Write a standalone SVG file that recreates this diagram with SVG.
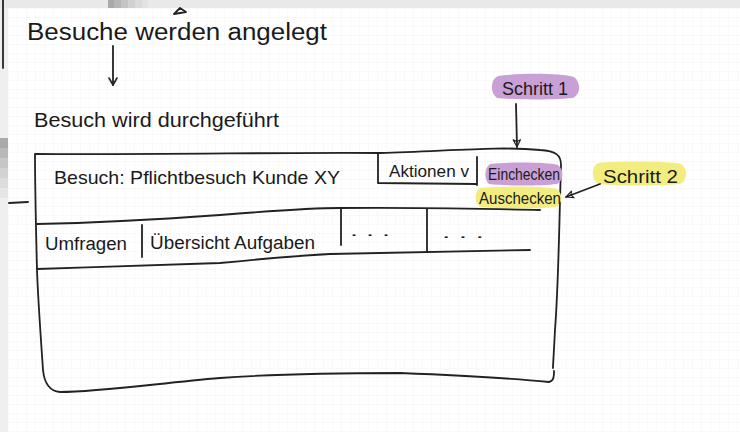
<svg xmlns="http://www.w3.org/2000/svg" width="740" height="432" viewBox="0 0 740 432">
  <defs>
    <pattern id="grid" width="9" height="9" patternUnits="userSpaceOnUse">
      <path d="M9 0V9H0" fill="none" stroke="#f3f3f3" stroke-width="1"/>
    </pattern>
    <marker id="vhead" viewBox="0 0 10 10" refX="9" refY="5" markerWidth="10" markerHeight="10" orient="auto" markerUnits="userSpaceOnUse">
      <path d="M2 1 L9 5 L2 9" fill="none" stroke="#222" stroke-width="1.6" stroke-linecap="round" stroke-linejoin="round"/>
    </marker>
    <marker id="tri" viewBox="0 0 10 10" refX="9" refY="5" markerWidth="9" markerHeight="9" orient="auto" markerUnits="userSpaceOnUse">
      <path d="M1 1 L9 5 L1 9 L3 5 Z" fill="none" stroke="#222" stroke-width="1.3" stroke-linejoin="round"/>
    </marker>
    <style>
      .ink { fill: none; stroke: #222; stroke-width: 1.8; stroke-linecap: round; stroke-linejoin: round; }
      .hand { font-family: "Liberation Sans", "DejaVu Sans", sans-serif; fill: #1a1a1a; }
      .purple { fill: #c9a0d6; }
      .yellow { fill: #f3ed80; }
    </style>
  </defs>

  <!-- page background with faint grid -->
  <rect width="740" height="432" fill="#ffffff"/>
  <rect width="740" height="432" fill="url(#grid)"/>

  <!-- window chrome along top and left -->
  <rect x="0" y="0" width="740" height="8" fill="#e9e9e9"/>
  <rect x="108" y="0" width="6" height="8" fill="#a8a8a8"/>
  <rect x="114" y="0" width="7" height="8" fill="#b6b6b6"/>
  <rect x="121" y="0" width="7" height="8" fill="#c4c4c4"/>
  <rect x="128" y="0" width="7" height="8" fill="#d1d1d1"/>
  <rect x="135" y="0" width="7" height="8" fill="#dbdbdb"/>
  <rect x="142" y="0" width="6" height="8" fill="#e2e2e2"/>
  <rect x="0" y="8" width="8" height="424" fill="#efefef"/>
  <rect x="0" y="138" width="8" height="10" fill="#a9a9a9"/>
  <rect x="0" y="148" width="8" height="10" fill="#b8b8b8"/>
  <rect x="0" y="158" width="8" height="10" fill="#c6c6c6"/>
  <rect x="0" y="168" width="8" height="10" fill="#d2d2d2"/>
  <rect x="0" y="178" width="8" height="10" fill="#dcdcdc"/>
  <rect x="0" y="188" width="8" height="10" fill="#e5e5e5"/>
  <path class="ink" d="M3 0 L3 68"/>
  <path class="ink" d="M174 14 L180 8 L186 12 Z" stroke-width="1.4"/>
  <path class="ink" d="M9 203 L28 202"/>

  <!-- step 1: visits are created -->
  <g id="besuche-angelegt">
    <text class="hand" x="27" y="40" font-size="23" textLength="300" lengthAdjust="spacingAndGlyphs">Besuche werden angelegt</text>
  </g>

  <!-- step 2: visit is carried out -->
  <g id="besuch-durchgefuehrt">
    <text class="hand" x="34" y="127" font-size="20" textLength="245" lengthAdjust="spacingAndGlyphs">Besuch wird durchgeführt</text>
  </g>

  <!-- visit screen -->
  <g id="besuch-ansicht">
    <path class="ink" d="M35 154 C150 155 300 152 380 153 C450 151 500 146 540 150 C556 151 561 155 561 165 L560 200 C559 240 558 290 555 330 C554 350 553 365 553 368 M554 371 C554 376 554 381 549 382 C500 377 450 375 400 373 C330 373 260 375 220 378 C160 383 100 392 60 392 C48 391 44 380 43 370 C41 340 38 300 37 270 C36 230 35 190 35 154"/>
  </g>

  <g id="kopfzeile">
    <text class="hand" x="54" y="184" font-size="19" textLength="286" lengthAdjust="spacingAndGlyphs">Besuch: Pflichtbesuch Kunde XY</text>
  </g>

  <g id="aktionen">
    <path class="ink" d="M378 153 L378 183 L477 184 M477 157 L477 185"/>
    <text class="hand" x="389" y="177" font-size="17" textLength="80" lengthAdjust="spacingAndGlyphs">Aktionen v</text>
  </g>

  <g id="einchecken">
    <path class="purple" d="M490 164 C510 162 545 162 558 165 C564 170 564 180 557 184 C540 186 505 186 489 184 C484 180 484 168 490 164 Z"/>
    <text class="hand" x="488" y="180" font-size="17" textLength="72" lengthAdjust="spacingAndGlyphs">Einchecken</text>
  </g>

  <g id="auschecken">
    <path class="yellow" d="M480 188 C500 186 540 186 557 189 C563 194 563 203 556 207 C535 209 500 209 480 207 C474 203 474 192 480 188 Z"/>
    <text class="hand" x="479" y="204" font-size="17" textLength="82" lengthAdjust="spacingAndGlyphs">Auschecken</text>
  </g>

  <g id="reiter">
    <path class="ink" d="M37 224 C90 223 150 220 220 215 C270 211 310 208 340 208 C420 207 480 209 540 210"/>
    <path class="ink" d="M37 269 C100 267 170 265 220 263 C260 259 290 256 330 254 C400 252 470 251 530 250"/>
    <path class="ink" d="M142 225 L142 257"/>
    <path class="ink" d="M341 208 L341 245"/>
    <path class="ink" d="M427 209 L427 252"/>
    <text class="hand" x="45" y="250" font-size="18" textLength="82" lengthAdjust="spacingAndGlyphs">Umfragen</text>
    <text class="hand" x="150" y="249" font-size="18" textLength="165" lengthAdjust="spacingAndGlyphs">Übersicht Aufgaben</text>
    <text class="hand" x="350" y="236" font-size="15" textLength="40" lengthAdjust="spacingAndGlyphs">. . .</text>
    <text class="hand" x="442" y="238" font-size="15" textLength="42" lengthAdjust="spacingAndGlyphs">. . .</text>
  </g>

  <g id="schritt-1">
    <path class="purple" d="M498 76 C520 73 560 73 574 77 C581 83 581 94 573 98 C550 100 515 100 497 98 C490 93 490 80 498 76 Z"/>
    <text class="hand" x="502" y="95" font-size="18" textLength="66" lengthAdjust="spacingAndGlyphs">Schritt 1</text>
  </g>

  <g id="schritt-2">
    <path class="yellow" d="M598 163 C620 161 665 161 681 164 C688 169 688 180 680 184 C655 186 620 186 598 184 C591 179 591 167 598 163 Z"/>
    <text class="hand" x="603" y="183" font-size="19" textLength="75" lengthAdjust="spacingAndGlyphs">Schritt 2</text>
  </g>

  <!-- connectors -->
  <g id="verbindungen">
    <path class="ink" d="M113 46 L113 85" marker-end="url(#vhead)"/>
    <path class="ink" d="M516 104 L517 147" marker-end="url(#tri)"/>
    <path class="ink" d="M600 184 L566 197" marker-end="url(#tri)"/>
  </g>
</svg>
